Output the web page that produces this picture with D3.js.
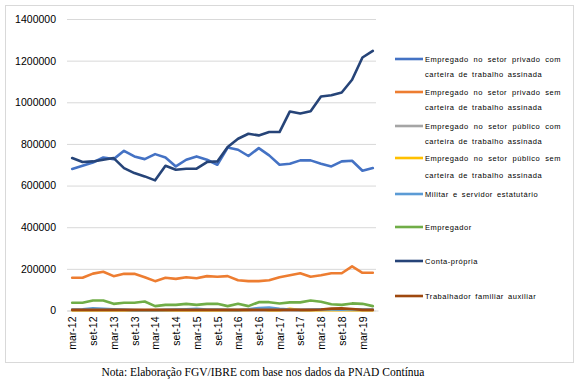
<!DOCTYPE html>
<html>
<head>
<meta charset="utf-8">
<script src="https://cdn.jsdelivr.net/npm/d3@7"></script>
<style>
  body { margin: 0; background: #fff; }
  svg { display: block; font-family: "Liberation Sans", Arial, sans-serif; }
</style>
</head>
<body>
<div id="chart"></div>
<script>
// Quarterly periods, mar-12 .. jun-19
const periods = [
  "mar-12","jun-12","set-12","dez-12","mar-13","jun-13","set-13","dez-13",
  "mar-14","jun-14","set-14","dez-14","mar-15","jun-15","set-15","dez-15",
  "mar-16","jun-16","set-16","dez-16","mar-17","jun-17","set-17","dez-17",
  "mar-18","jun-18","set-18","dez-18","mar-19","jun-19"
];

const yTicks = [0, 200000, 400000, 600000, 800000, 1000000, 1200000, 1400000];

// values in thousands
const privadoCom = [680,695,711,735,727,767,740,727,751,735,692,724,740,724,700,783,772,742,780,745,700,705,721,721,705,692,716,719,671,684];
const privadoSem = [157,157,177,186,165,176,176,160,141,157,152,160,155,165,162,165,145,141,141,145,160,169,179,162,169,179,179,212,181,181];
const publicoCom = [2,2,2,2,2,1,1,1,2,2,2,2,2,2,2,2,2,2,2,3,2,2,2,2,3,6,4,3,2,2];
const publicoSem = [1,1,1,1,1,1,1,1,1,1,1,1,1,1,1,1,1,3,6,2,1,8,2,1,1,2,3,2,1,1];
const militar    = [5,6,10,8,6,4,2,1,1,3,4,6,8,5,4,3,2,6,12,14,8,4,3,4,6,5,4,6,5,4];
const empregador = [37,37,48,48,32,37,37,43,21,27,27,32,27,32,32,21,32,21,40,40,34,39,39,48,42,30,27,34,32,21];
const contaPropria = [732,713,716,724,732,684,660,644,625,695,676,681,681,713,716,785,825,849,841,857,857,956,946,957,1028,1034,1047,1108,1215,1247];
const familiar   = [3,3,3,3,3,3,3,3,3,3,3,3,3,3,3,3,3,3,3,3,3,3,3,3,5,9,10,7,3,3];

const series = [
  { name: ["Empregado no setor privado com", "carteira de trabalho assinada"], values: privadoCom, color: "#4472c4" },
  { name: ["Empregado no setor privado sem", "carteira de trabalho assinada"], values: privadoSem, color: "#ed7d31" },
  { name: ["Empregado no setor público com", "carteira de trabalho assinada"], values: publicoCom, color: "#a5a5a5" },
  { name: ["Empregado no setor público sem", "carteira de trabalho assinada"], values: publicoSem, color: "#ffc000" },
  { name: ["Militar e servidor estatutário"], values: militar, color: "#5b9bd5" },
  { name: ["Empregador"], values: empregador, color: "#70ad47" },
  { name: ["Conta-própria"], values: contaPropria, color: "#264478" },
  { name: ["Trabalhador familiar auxiliar"], values: familiar, color: "#9e480e" }
];

const width = 583, height = 392;
const svg = d3.select("#chart").append("svg")
  .attr("width", width)
  .attr("height", height);

// chart frame
svg.append("rect")
  .attr("x", 5.5).attr("y", 5.5)
  .attr("width", 568).attr("height", 357)
  .attr("fill", "#fff")
  .attr("stroke", "#d9d9d9");

const x = d3.scalePoint()
  .domain(periods)
  .range([67, 378])
  .padding(0.5);

const y = d3.scaleLinear()
  .domain([0, 1400000])
  .range([310.5, 19]);

// gridlines + y labels
const yAxis = svg.append("g")
  .attr("transform", "translate(67,0)")
  .call(d3.axisLeft(y).tickValues(yTicks).tickSize(-309).tickPadding(11).tickFormat(d3.format("d")));
yAxis.select(".domain").remove();
yAxis.selectAll("line").attr("stroke", "#d9d9d9");
yAxis.selectAll("text")
  .attr("fill", "#000")
  .style("font-size", "10.5px")
  .style("font-family", "'Liberation Sans', Arial, sans-serif");

// x axis labels, every other quarter
const xAxis = svg.append("g")
  .attr("transform", "translate(0,310.5)")
  .call(d3.axisBottom(x).tickValues(periods.filter((d, i) => i % 2 === 0)).tickSize(0));
xAxis.select(".domain").attr("stroke", "#d9d9d9");
xAxis.selectAll("text")
  .attr("fill", "#000")
  .attr("transform", "rotate(-90)")
  .attr("text-anchor", "end")
  .attr("x", -6)
  .attr("y", 0)
  .attr("dy", "0.35em")
  .style("font-size", "10.5px")
  .style("font-family", "'Liberation Sans', Arial, sans-serif");

// lines
const line = d3.line()
  .x((d, i) => x(periods[i]))
  .y(d => y(d * 1000));

svg.append("g").selectAll("path")
  .data(series)
  .enter()
  .append("path")
  .attr("d", d => line(d.values))
  .attr("fill", "none")
  .attr("stroke", d => d.color)
  .attr("stroke-width", 2.6)
  .attr("stroke-linejoin", "round")
  .attr("stroke-linecap", "round");

// legend
const legendRows = [[59, 74], [92, 107], [126, 141], [158, 175], [194], [227], [261], [296]];
const textLeft = 425, textRight = 561;
const legend = svg.append("g");

series.forEach((s, i) => {
  const rows = legendRows[i];
  legend.append("line")
    .attr("x1", 395).attr("x2", 423)
    .attr("y1", rows[0]).attr("y2", rows[0])
    .attr("stroke", s.color)
    .attr("stroke-width", 2.6);
  s.name.forEach((txt, j) => {
    const t = legend.append("text")
      .attr("x", textLeft)
      .attr("y", rows[j])
      .attr("dy", "0.35em")
      .style("font-size", "7.5px")
      .style("letter-spacing", "0.55px")
      .style("word-spacing", "1.5px")
      .text(txt);
    // justify the first line of two-line entries
    if (s.name.length > 1 && j === 0) {
      const gaps = txt.split(" ").length - 1;
      const natural = t.node().getComputedTextLength();
      const extra = (textRight - textLeft - natural) / gaps;
      t.style("word-spacing", (1.5 + extra) + "px");
    }
  });
});

// note
svg.append("text")
  .attr("x", 263)
  .attr("y", 372)
  .attr("dy", "0.35em")
  .attr("text-anchor", "middle")
  .style("font-family", "'Liberation Serif', 'Times New Roman', serif")
  .style("font-size", "11.5px")
  .text("Nota: Elaboração FGV/IBRE com base nos dados da PNAD Contínua");
</script>
</body>
</html>
